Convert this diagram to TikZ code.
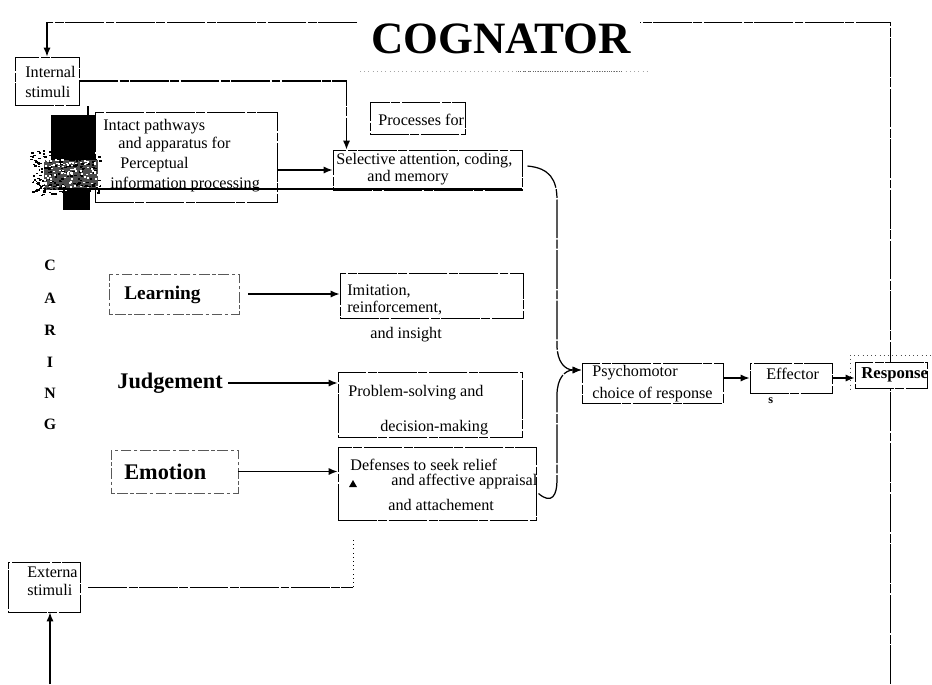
\documentclass[tikz,border=0pt]{standalone}
\usepackage{fontspec}
\setmainfont{Liberation Serif}
\usetikzlibrary{arrows.meta,calc,fit}

\begin{document}
\begin{tikzpicture}[x=0.02cm,y=-0.02cm,
  every node/.style={inner sep=0pt},
  small/.style={font=\fontsize{9.2}{10}\selectfont, anchor=west},
  box/.style={draw, line width=0.55pt, dash pattern=on 22pt off 0.9pt on 5pt off 0.9pt, fill=white, inner sep=0pt},
  lightbox/.style={draw=black!65, line width=0.4pt, dash pattern=on 2pt off 1.5pt on 6pt off 1.5pt, inner sep=0pt},
  arr/.style={-{Latex[length=5pt,width=4pt]}, line width=0.7pt},
  link/.style={line width=0.55pt, dash pattern=on 22pt off 0.9pt on 5pt off 0.9pt},
  caring/.style={font=\fontsize{9}{10}\selectfont\bfseries},
]
\useasboundingbox (0,0) rectangle (932,684);

% title
\node[font=\fontsize{25.5}{28}\selectfont\bfseries] (title) at (501,39) {COGNATOR};
\draw[black!35, dotted] (360,71) -- (650,71);
\draw[black!60, densely dotted] (518,71) -- (622,71);

% boxes
\node[box, fit={(15,57) (79,105)}] (internal) {};
\node[box, fit={(95,112) (277,202)}] (intact) {};
\node[box, fit={(370,102) (465,134)}] (proc) {};
\node[box, fit={(333,150) (522,190)}] (sel) {};
\node[lightbox, fit={(109,274) (239,314)}] (learn) {};
\node[box, fit={(340,273) (523,318)}] (imit) {};
\node[box, fit={(338,372) (522,437)}] (prob) {};
\node[lightbox, fit={(111,450) (238,493)}] (emo) {};
\node[box, fit={(338,447) (536,520)}] (def) {};
\node[box, fit={(8,562) (80,612)}] (ext) {};
\node[box, fit={(582,363) (723,403)}] (psy) {};
\node[box, fit={(750,363) (832,393)}] (eff) {};

% feedback loop along the top and right
\coordinate (loopbot) at (890,684);
\coordinate (loopcorner) at (890,22);
\coordinate (looptop) at (47,22);
\draw[link] (loopbot) -- (loopcorner) -- (640,22);
\draw[link] (357,22) -- (looptop);
\draw[arr] (looptop) -- (internal.north);

% response box sits on the right line
\node[box, fit={(855,362) (927,388)}] (resp) {};
\draw[black!70, dotted] (850,355) -- (932,355);
\draw[black!70, dotted] (850,355) -- (850,392);

% texts inside boxes
\node[small] at (25,72) {Internal};
\node[small] at (25,92) {stimuli};
\node[small] at (103,127) {Intact pathways};
\node[small] at (118,145) {and apparatus for};
\node[small] at (120,165) {Perceptual};
\node[small] at (110,185) {information processing};
\node[small] at (378,120) {Processes for};
\node[small] at (336,161) {Selective attention, coding,};
\node[small] at (367,178) {and memory};
\node[small] at (347,291) {Imitation,};
\node[small] at (347,308) {reinforcement,};
\node[small] at (370,335) {and insight};
\node[small] at (348,393) {Problem-solving and};
\node[small] at (380,428) {decision-making};
\node[small] at (350,465) {Defenses to seek relief};
\node[small] at (391,482) {and affective appraisal};
\node[small] at (388,505) {and attachement};
\node[small] at (27,572) {Externa};
\node[small] at (27,590) {stimuli};
\node[small] at (592,373) {Psychomotor};
\node[small] at (592,395) {choice of response};
\node[small] at (766,374) {Effector};
\node[small, font=\fontsize{7}{8}\selectfont\bfseries] at (768,401) {s};
\node[small, font=\fontsize{9.5}{10}\selectfont\bfseries] at (861,375) {Response};
\fill (349,487) -- (353,480) -- (357,487) -- cycle;

% left-hand labels
\node[anchor=west, font=\fontsize{11}{12}\selectfont\bfseries] at (124,295) {Learning};
\node[anchor=west, font=\fontsize{12.7}{14}\selectfont\bfseries] (judg) at (117,383) {Judgement};
\node[anchor=west, font=\fontsize{12.7}{14}\selectfont\bfseries] at (124,472) {Emotion};

\foreach \ch/\yy in {C/265, A/298, R/330, I/362, N/393, G/424}
  \node[caring] at (50,\yy) {\ch};

% dark smudge over the left of the perceptual box
\fill (51,115) rectangle (95,160);
\fill (63,188) rectangle (90,210);
\fill[black!70] (44,160) rectangle (98,190);
\pgfmathsetseed{7}
\foreach \i in {1,...,220} {
  \pgfmathsetmacro\rx{30+70*rnd}
  \pgfmathsetmacro\ry{150+45*rnd}
  \fill (\rx,\ry) rectangle ++(2.5,1.5);
}
\foreach \i in {1,...,110} {
  \pgfmathsetmacro\rx{34+64*rnd}
  \pgfmathsetmacro\ry{158+32*rnd}
  \fill[white] (\rx,\ry) rectangle ++(2,1.5);
}
\draw[line width=0.8pt] (88,106) -- (88,116);
\coordinate (heavy) at (58,189);
\draw[line width=1.2pt] (heavy) -- (heavy -| sel.east);

% connectors
\coordinate (selin) at ([xshift=0.28cm]sel.north west);
\draw[link, arr] (internal.east) -| (selin);
\draw[arr] (intact.east |- sel.west) -- (sel.west);
\draw[arr] ([xshift=0.18cm]learn.east) -- (learn.east -| imit.west);
\draw[arr] ([xshift=0.1cm]judg.east) -- (judg.east -| prob.west);
\draw[arr] (emo.east) -- (emo.east -| def.west);

\coordinate (pin) at ([yshift=0.26cm]psy.west);
\draw[link, arr] ([xshift=0.1cm,yshift=0.08cm]sel.east) .. controls (550,168) and (557,180) .. (557,200)
   -- (557,345) .. controls (557,362) and (565,370) .. (pin);
\draw[link, arr] ([xshift=0.04cm,yshift=-0.2cm]def.east) .. controls (552,505) and (557,495) .. (557,480)
   -- (557,395) .. controls (557,378) and (565,370) .. (pin);

\draw[arr] (psy.east |- eff.west) -- (eff.west);
\draw[arr] (eff.east) -- (eff.east -| resp.west);

% external stimuli
\coordinate (extend) at (353,540);
\draw[link] ([xshift=0.16cm]ext.east) -- (ext.east -| extend);
\draw[dotted] (ext.east -| extend) -- (extend);
\coordinate (extsrc) at (50,684);
\draw[arr] (extsrc) -- (extsrc |- ext.south);
\end{tikzpicture}
\end{document}
